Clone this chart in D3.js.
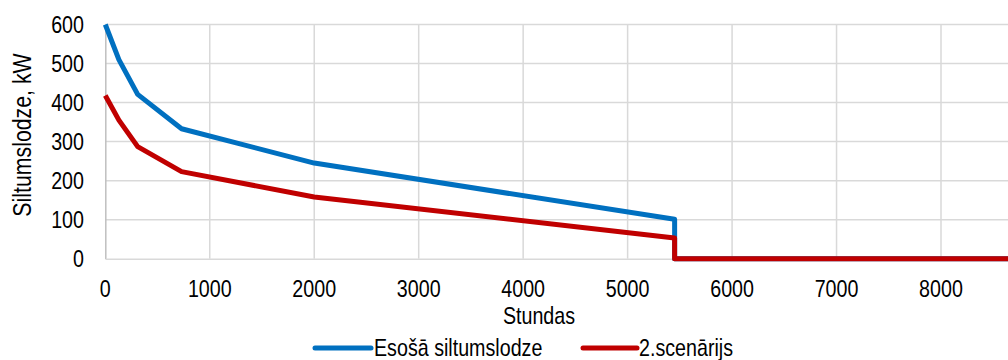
<!DOCTYPE html>
<html>
<head>
<meta charset="utf-8">
<script src="https://cdn.jsdelivr.net/npm/d3@7"></script>
<style>
  html, body { margin: 0; padding: 0; background: #fff; }
  svg { display: block; }
  text { font-family: "Liberation Sans", Arial, sans-serif; fill: #000; }
</style>
</head>
<body>
<svg id="chart" width="1008" height="360"></svg>
<script>
// Load-duration curve: heat load (kW) versus hours of the year
const hours = [0, 130, 310, 730, 2000, 5450, 5450, 8760];
const existingLoad = [600, 510, 421, 333, 245, 101, 0, 0];
const scenario2 = [418, 355, 287, 223, 158, 53, 0, 0];

const seriesNames = ["Esošā siltumslodze", "2.scenārijs"];
const seriesColors = ["#0070C0", "#C00000"];

const xTicks = [0, 1000, 2000, 3000, 4000, 5000, 6000, 7000, 8000];
const yTicks = [0, 100, 200, 300, 400, 500, 600];

const xTitle = "Stundas";
const yTitle = "Siltumslodze, kW";

const svg = d3.select("#chart");
const narrow = 0.82; // condensed face

const x = d3.scaleLinear().domain([0, 8760]).range([105.3, 1020.4]);
const y = d3.scaleLinear().domain([0, 600]).range([258.7, 24.5]);

// gridlines
const grid = svg.append("g");
grid.selectAll("line.h").data(yTicks.filter(d => d > 0)).join("line")
  .attr("x1", x(0)).attr("x2", 1008)
  .attr("y1", d => y(d)).attr("y2", d => y(d))
  .attr("stroke", "#d9d9d9").attr("stroke-width", 1.5);
grid.selectAll("line.v").data(xTicks.filter(d => d > 0)).join("line")
  .attr("x1", d => x(d)).attr("x2", d => x(d))
  .attr("y1", y(600)).attr("y2", y(0))
  .attr("stroke", "#d9d9d9").attr("stroke-width", 1.5);

// axes
const yAxis = svg.append("g").attr("transform", `translate(${x(0)},0)`)
  .call(d3.axisLeft(y).tickValues(yTicks).tickSize(0).tickFormat(""));
yAxis.select(".domain").attr("stroke", "#bfbfbf").attr("stroke-width", 1.5);
const xAxis = svg.append("g").attr("transform", `translate(0,${y(0)})`)
  .call(d3.axisBottom(x).tickValues(xTicks).tickSize(0).tickFormat(""));
xAxis.select(".domain").attr("stroke", "#d9d9d9").attr("stroke-width", 1.5);

// tick labels
svg.append("g").selectAll("text").data(yTicks).join("text")
  .attr("transform", d => `translate(84,${y(d) + 8.5}) scale(${narrow},1)`)
  .attr("text-anchor", "end").attr("font-size", 24)
  .text(d => d);
svg.append("g").selectAll("text").data(xTicks).join("text")
  .attr("transform", d => `translate(${x(d)},297) scale(${narrow},1)`)
  .attr("text-anchor", "middle").attr("font-size", 24)
  .text(d => d);

// axis titles
svg.append("text")
  .attr("transform", `translate(539,324) scale(${narrow},1)`)
  .attr("text-anchor", "middle").attr("font-size", 24)
  .text(xTitle);
svg.append("text")
  .attr("transform", `translate(31,135) rotate(-90) scale(${narrow},1)`)
  .attr("text-anchor", "middle").attr("font-size", 26)
  .text(yTitle);

// series lines
const line = d3.line().x(d => x(d[0])).y(d => y(d[1]));
[existingLoad, scenario2].forEach((vals, i) => {
  svg.append("path")
    .datum(hours.map((h, k) => [h, vals[k]]))
    .attr("d", line)
    .attr("fill", "none")
    .attr("stroke", seriesColors[i])
    .attr("stroke-width", 5)
    .attr("stroke-linejoin", "round");
});

// legend
const legendItems = [
  { name: seriesNames[0], color: seriesColors[0], x0: 315, x1: 371, tx: 374 },
  { name: seriesNames[1], color: seriesColors[1], x0: 583, x1: 637, tx: 639 }
];
const lg = svg.append("g");
legendItems.forEach(it => {
  lg.append("line")
    .attr("x1", it.x0).attr("x2", it.x1).attr("y1", 348).attr("y2", 348)
    .attr("stroke", it.color).attr("stroke-width", 5).attr("stroke-linecap", "round");
  lg.append("text")
    .attr("transform", `translate(${it.tx},356) scale(${narrow},1)`)
    .attr("font-size", 24)
    .text(it.name);
});
</script>
</body>
</html>
